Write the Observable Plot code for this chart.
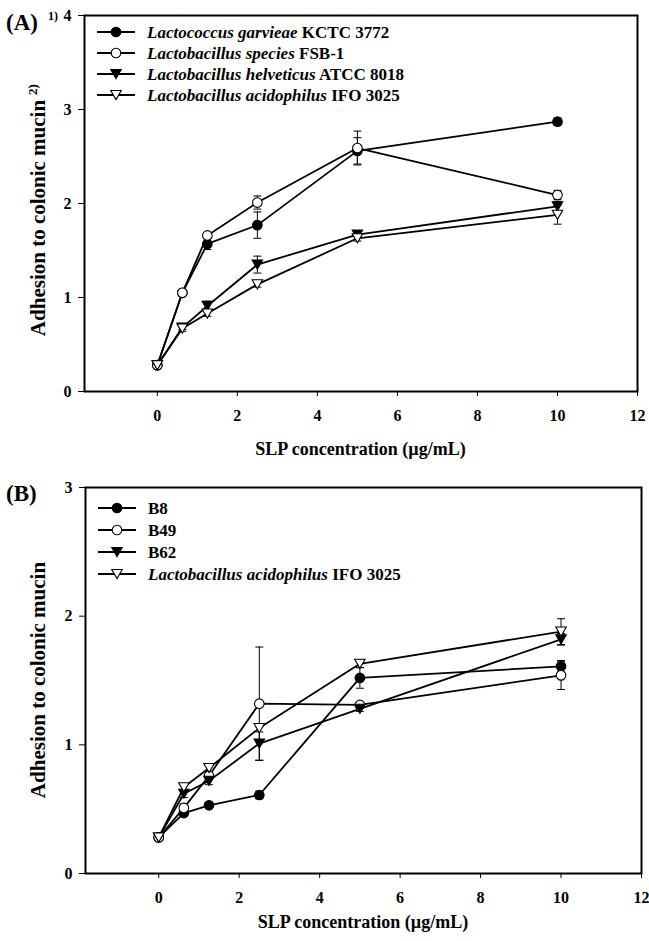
<!DOCTYPE html>
<html>
<head>
<meta charset="utf-8">
<script src="https://cdn.jsdelivr.net/npm/d3@7"></script>
<script src="https://cdn.jsdelivr.net/npm/@observablehq/plot@0.6"></script>
<style>
  body { margin: 0; background: #fff; }
  #charts { width: 649px; }
  #charts svg { display: block; }
</style>
</head>
<body>
<div id="charts"></div>
<script>
// ---------- shared ----------
const conc = [0, 0.625, 1.25, 2.5, 5, 10];          // SLP concentration (µg/mL)
const xTicks = [0, 2, 4, 6, 8, 10, 12];
const xTitle = "SLP concentration (µg/mL)";
const yTitle = "Adhesion to colonic mucin";

// ---------- panel A ----------
const yTicksA = [0, 1, 2, 3, 4];
const namesA = ["Lactococcus garvieae", "Lactobacillus species", "Lactobacillus helveticus", "Lactobacillus acidophilus"];
const strainsA = ["KCTC 3772", "FSB-1", "ATCC 8018", "IFO 3025"];
const garvieaeA = [0.28, 1.05, 1.57, 1.77, 2.56, 2.87];
const garvieaeErrA = [0.02, 0.02, 0.06, 0.14, 0.14, 0.04];
const fsb1A = [0.28, 1.05, 1.66, 2.01, 2.59, 2.09];
const fsb1ErrA = [0.02, 0.02, 0.03, 0.07, 0.18, 0.05];
const helveticusA = [0.28, 0.68, 0.91, 1.35, 1.67, 1.97];
const helveticusErrA = [0.02, 0.02, 0.05, 0.09, 0.02, 0.05];
const acidophilusA = [0.28, 0.67, 0.83, 1.14, 1.63, 1.88];
const acidophilusErrA = [0.02, 0.03, 0.03, 0.03, 0.03, 0.10];

// ---------- panel B ----------
const yTicksB = [0, 1, 2, 3];
const namesB = ["", "", "", "Lactobacillus acidophilus"];
const strainsB = ["B8", "B49", "B62", "IFO 3025"];
const b8B = [0.28, 0.47, 0.53, 0.61, 1.52, 1.61];
const b8ErrB = [0.02, 0.02, 0.02, 0.03, 0.08, 0.045];
const b49B = [0.28, 0.51, 0.76, 1.32, 1.31, 1.54];
const b49ErrB = [0.02, 0.03, 0.03, 0.44, 0.02, 0.11];
const b62B = [0.28, 0.62, 0.72, 1.01, 1.28, 1.82];
const b62ErrB = [0.02, 0.03, 0.03, 0.13, 0.02, 0.045];
const acidophilusB = [0.28, 0.67, 0.82, 1.13, 1.63, 1.88];
const acidophilusErrB = [0.02, 0.03, 0.03, 0.03, 0.03, 0.10];

// ---------- symbols ----------
const FONT = "'Liberation Serif', 'Times New Roman', serif";
const capSym = { draw(ctx) { ctx.moveTo(-4, 0); ctx.lineTo(4, 0); } };
const triDown = { draw(ctx) { const a = 10.5, h = a * Math.sqrt(3) / 2;
  ctx.moveTo(-a / 2, -h / 2); ctx.lineTo(a / 2, -h / 2); ctx.lineTo(0, h / 2); ctx.closePath(); } };
const circ = { draw(ctx) { ctx.moveTo(4.8, 0); ctx.arc(0, 0, 4.8, 0, 2 * Math.PI); } };
const markerStyles = [
  { symbol: circ, fill: "black" },
  { symbol: circ, fill: "white" },
  { symbol: triDown, fill: "black" },
  { symbol: triDown, fill: "white" }
];

function addText(sel, attrs, txt) {
  const t = sel.append("text").attr("font-family", FONT).attr("font-weight", "bold")
    .attr("fill", "black").attr("text-anchor", "start");
  for (const k in attrs) t.attr(k, attrs[k]);
  if (txt != null) t.text(txt);
  return t;
}

function panel(cfg) {
  const { values, errors, names, strains, yTicks, yMax, height, m, letter, sup, ySup, legendTop, legendGap, yTitleCenter } = cfg;
  const rows = [];
  values.forEach((vals, i) => vals.forEach((v, j) => rows.push({ s: i, x: conc[j], y: v, e: errors[i][j] })));
  const marks = [
    Plot.ruleX(rows, { x: "x", y1: d => d.y - d.e, y2: d => d.y + d.e, stroke: "black", strokeWidth: 1 }),
    Plot.dot(rows, { x: "x", y: d => d.y + d.e, symbol: capSym, fill: "none", stroke: "black", strokeWidth: 1 }),
    Plot.dot(rows, { x: "x", y: d => d.y - d.e, symbol: capSym, fill: "none", stroke: "black", strokeWidth: 1 }),
    Plot.line(rows, { x: "x", y: "y", z: "s", stroke: "black", strokeWidth: 1.8 }),
    ...markerStyles.map((st, i) => Plot.dot(rows.filter(d => d.s === i), {
      x: "x", y: "y", symbol: st.symbol, fill: st.fill, stroke: "black", strokeWidth: 1.1
    })),
    Plot.frame({ stroke: "black", strokeWidth: 2 }),
    Plot.axisX({ ticks: xTicks, tickSize: 5, tickPadding: 13, fontSize: 16, fontWeight: "bold", label: null, tickFormat: d => String(d), fill: "black" }),
    Plot.axisY({ ticks: yTicks, tickSize: 6, tickPadding: 7, fontSize: 16, fontWeight: "bold", label: null, tickFormat: d => String(d), fill: "black" })
  ];
  const svg = Plot.plot({
    width: 649, height,
    marginTop: m.top, marginBottom: m.bottom, marginLeft: m.left, marginRight: m.right,
    x: { domain: [-1.82, 12], label: null },
    y: { domain: [0, yMax], label: null },
    style: { fontFamily: FONT, background: "white", color: "black", overflow: "visible" },
    marks
  });
  const sel = d3.select(svg);
  const fl = m.left, fr = 649 - m.right, ft = m.top, fb = height - m.bottom;
  // panel letter
  addText(sel, { x: 6, y: cfg.letterY, "font-size": 23 }, letter);
  if (sup) addText(sel, { x: 48, y: cfg.letterY - 10, "font-size": 12 }, sup);
  // x title
  addText(sel, { x: (fl + fr) / 2, y: fb + cfg.xTitleOff, "text-anchor": "middle", "font-size": 18 }, xTitle);
  // y title
  addText(sel, { transform: `translate(45,${yTitleCenter}) rotate(-90)`, "text-anchor": "middle", "font-size": 21 }, yTitle);
  if (ySup) addText(sel, { transform: `translate(37,${yTitleCenter - 123}) rotate(-90)`, "font-size": 13 }, ySup);
  // legend
  names.forEach((nm, i) => {
    const y = ft + legendTop + i * legendGap;
    const x0 = fl + 13, x1 = fl + 51, xm = (x0 + x1) / 2;
    sel.append("line").attr("x1", x0).attr("x2", x1).attr("y1", y).attr("y2", y)
      .attr("stroke", "black").attr("stroke-width", 1.8);
    sel.append("path").attr("d", d3.symbol(markerStyles[i].symbol)())
      .attr("transform", `translate(${xm},${y})`).attr("fill", markerStyles[i].fill)
      .attr("stroke", "black").attr("stroke-width", 1.1);
    const t = addText(sel, { x: fl + 63, y: y + 5.5, "font-size": 17 });
    if (nm) { t.append("tspan").attr("font-style", "italic").text(nm); t.append("tspan").text(" " + strains[i]); }
    else t.append("tspan").text(strains[i]);
  });
  return svg;
}

const root = document.getElementById("charts");
root.appendChild(panel({
  values: [garvieaeA, fsb1A, helveticusA, acidophilusA],
  errors: [garvieaeErrA, fsb1ErrA, helveticusErrA, acidophilusErrA],
  names: namesA, strains: strainsA, yTicks: yTicksA, yMax: 4, height: 470,
  m: { top: 15, bottom: 79, left: 84, right: 12 },
  letter: "(A)", sup: "1)", ySup: "2)", letterY: 30, legendTop: 17, legendGap: 21, yTitleCenter: 218, xTitleOff: 64
}));
root.appendChild(panel({
  values: [b8B, b49B, b62B, acidophilusB],
  errors: [b8ErrB, b49ErrB, b62ErrB, acidophilusErrB],
  names: namesB, strains: strainsB, yTicks: yTicksB, yMax: 3, height: 471,
  m: { top: 17, bottom: 68, left: 85, right: 8 },
  letter: "(B)", sup: null, ySup: null, letterY: 31, legendTop: 21, legendGap: 22, yTitleCenter: 210, xTitleOff: 55
}));
</script>
</body>
</html>
